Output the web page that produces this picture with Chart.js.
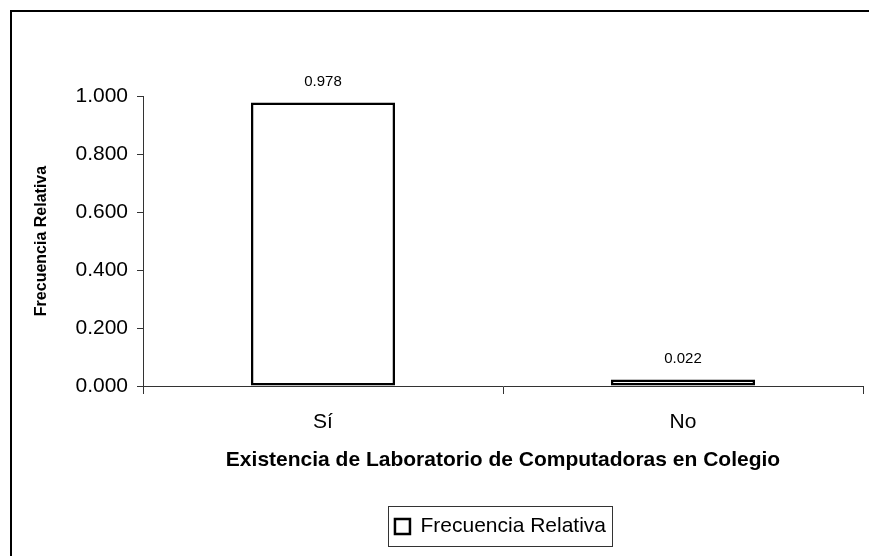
<!DOCTYPE html>
<html><head><meta charset="utf-8">
<script src="https://cdn.jsdelivr.net/npm/chart.js@4.4.0/dist/chart.umd.min.js"></script>
<style>
html,body{margin:0;padding:0;background:#fff;overflow:hidden;}
#wrap{position:relative;width:869px;height:556px;overflow:hidden;}
#frame{position:absolute;left:10px;top:10px;width:900px;height:600px;border:2px solid #000;box-sizing:border-box;pointer-events:none;}
canvas{position:absolute;left:0;top:0;}
</style></head><body>
<div id="wrap"><canvas id="c" width="869" height="556"></canvas><div id="frame"></div></div>
<script>
const categories = ['Sí', 'No'];
const frecuenciaRelativa = [0.978, 0.022];
const yTickValues = [0, 0.2, 0.4, 0.6, 0.8, 1.0];
const yTickLabels = ['0.000', '0.200', '0.400', '0.600', '0.800', '1.000'];
const seriesName = 'Frecuencia Relativa';
const xTitle = 'Existencia de Laboratorio de Computadoras en Colegio';
const yTitle = 'Frecuencia Relativa';

const FONT = '"Liberation Sans", Arial, sans-serif';

const valueLabels = {
  id: 'valueLabels',
  afterDatasetsDraw(chart) {
    const ctx = chart.ctx;
    const meta = chart.getDatasetMeta(0);
    ctx.save();
    ctx.font = '15px ' + FONT;
    ctx.fillStyle = '#000';
    ctx.textAlign = 'center';
    ctx.textBaseline = 'middle';
    meta.data.forEach((bar, i) => {
      ctx.fillText(frecuenciaRelativa[i].toFixed(3), bar.x, bar.y - 21);
    });
    ctx.restore();
  }
};

const legendFrame = {
  id: 'legendFrame',
  afterLayout(chart) {
    const lg = chart.legend;
    lg.left = 138;
    lg.right = 863;
  },
  afterDraw(chart) {
    const lg = chart.legend;
    const pad = 10;
    const lw = lg.lineWidths[0];
    const x0 = (lg.left + pad + lg.right - lw) / 2;
    const left = Math.round(x0 - 7);
    const right = Math.round(x0 + lw - pad + 6);
    const ctx = chart.ctx;
    ctx.save();
    ctx.strokeStyle = '#333';
    ctx.lineWidth = 1;
    ctx.strokeRect(left + 0.5, Math.round(lg.top) + 0.5, right - left, Math.round(lg.height) - 1);
    ctx.restore();
  }
};

new Chart(document.getElementById('c'), {
  type: 'bar',
  data: {
    labels: categories,
    datasets: [{
      label: seriesName,
      data: frecuenciaRelativa,
      backgroundColor: '#fff',
      borderColor: '#000',
      borderWidth: 2.5,
      borderSkipped: false,
      categoryPercentage: 1.0,
      barPercentage: 0.4
    }]
  },
  options: {
    responsive: false,
    animation: false,
    devicePixelRatio: 1,
    layout: { padding: { left: 20, right: 6, top: 96, bottom: 9 } },
    plugins: {
      tooltip: { enabled: false },
      legend: {
        position: 'bottom',
        labels: {
          boxWidth: 15,
          boxHeight: 15,
          padding: 10,
          color: '#000',
          font: { family: FONT, size: 21 }
        }
      }
    },
    scales: {
      x: {
        type: 'category',
        afterFit(s) { s.height = 120; },
        grid: { display: true, drawOnChartArea: false, offset: true, tickLength: 8, color: '#333', lineWidth: 1 },
        border: { display: true, color: '#333', width: 1 },
        ticks: { color: '#000', padding: 16, font: { family: FONT, size: 21 } },
        title: {
          display: true, text: xTitle, color: '#000',
          font: { family: FONT, size: 21, weight: 'bold' },
          padding: { top: 0, bottom: 33 }
        }
      },
      y: {
        min: 0, max: 1,
        afterFit(s) { s.width = 123; },
        afterBuildTicks(s) { s.ticks = yTickValues.map(v => ({ value: v })); },
        grid: { display: true, drawOnChartArea: false, tickLength: 6, color: '#333', lineWidth: 1 },
        border: { display: true, color: '#333', width: 1 },
        ticks: {
          color: '#000', padding: 9,
          font: { family: FONT, size: 21 },
          callback(value) {
            const i = yTickValues.findIndex(v => Math.abs(v - value) < 1e-9);
            return i >= 0 ? yTickLabels[i] : '';
          }
        },
        title: {
          display: true, text: yTitle, color: '#000',
          font: { family: FONT, size: 16, weight: 'bold' },
          padding: { top: 12, bottom: 0 }
        }
      }
    }
  },
  plugins: [valueLabels, legendFrame]
});
</script>
</body></html>
